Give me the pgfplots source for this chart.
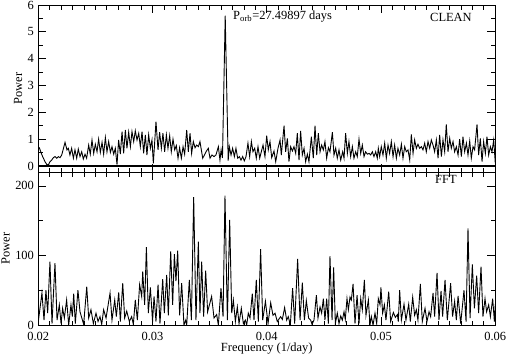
\documentclass[border=0pt]{standalone}
\usepackage{fontspec}
\setmainfont{Liberation Serif}
\usepackage{pgfplots}
\pgfplotsset{compat=1.18}

\pgfplotsset{
  every axis/.append style={
    scale only axis, width=457bp,
    xmin=0.02, xmax=0.06,
    tick align=inside,
    major tick length=8bp, minor tick length=4.5bp,
    xtick={0.02,0.03,0.04,0.05,0.06},
    minor x tick num=9,
    scaled x ticks=false,
    every tick/.style={black, line width=0.8bp},
    axis line style={line width=1bp},
    /pgf/number format/assume math mode=true,
    tick label style={font=\fontsize{12.5}{15}\selectfont},
    xticklabel style={yshift=-2.5bp},
    label style={font=\fontsize{12.5}{15}\selectfont},
    ylabel shift=-3bp,
    xlabel shift=-6bp,
  },
}

\begin{document}
\fontsize{12.5}{15}\selectfont
\begin{tikzpicture}
  % top panel: CLEAN periodogram
  \begin{axis}[name=top, height=167bp,
      ymin=-0.224, ymax=6, ytick={0,1,2,3,4,5,6}, minor y tick num=1,
      xticklabels={},
      extra y ticks={0}, extra y tick labels={},
      extra y tick style={grid=major, major grid style={black, line width=1.3bp}},
      ylabel={Power}]
    \addplot[black, line width=0.9bp] coordinates {
      (0.02000,0.66) (0.02009,0.68) (0.02024,0.50) (0.02038,0.35) (0.02059,0.16)
      (0.02076,0.04) (0.02091,0.06) (0.02102,0.16) (0.02117,0.22) (0.02132,0.31)
      (0.02146,0.35) (0.02161,0.29) (0.02175,0.35) (0.02190,0.31) (0.02205,0.41)
      (0.02234,0.88) (0.02251,0.60) (0.02263,0.66) (0.02277,0.41) (0.02292,0.66)
      (0.02307,0.29) (0.02321,0.60) (0.02336,0.29) (0.02350,0.63) (0.02365,0.35)
      (0.02380,0.53) (0.02394,0.26) (0.02409,0.44) (0.02423,0.29) (0.02441,0.78)
      (0.02455,0.44) (0.02470,0.97) (0.02485,0.47) (0.02499,0.81) (0.02514,0.53)
      (0.02528,1.00) (0.02543,0.51) (0.02558,0.88) (0.02572,0.44) (0.02587,1.06)
      (0.02601,0.53) (0.02616,0.91) (0.02631,0.51) (0.02645,0.72) (0.02660,0.44)
      (0.02674,0.66) (0.02689,0.05) (0.02703,0.97) (0.02718,0.44) (0.02733,1.28)
      (0.02747,0.47) (0.02762,1.34) (0.02776,0.66) (0.02791,1.26) (0.02806,0.72)
      (0.02820,1.28) (0.02835,0.91) (0.02849,1.31) (0.02864,0.97) (0.02879,1.22)
      (0.02893,0.72) (0.02908,1.28) (0.02922,0.47) (0.02937,1.16) (0.02951,0.41)
      (0.02966,1.16) (0.02981,0.66) (0.02995,0.97) (0.03007,0.10) (0.03030,1.65)
      (0.03048,0.60) (0.03062,1.26) (0.03077,0.66) (0.03091,1.22) (0.03106,0.53)
      (0.03121,1.16) (0.03135,0.66) (0.03150,1.13) (0.03164,0.53) (0.03179,1.00)
      (0.03194,0.60) (0.03208,0.76) (0.03223,0.29) (0.03237,0.68) (0.03252,0.29)
      (0.03267,0.72) (0.03281,0.44) (0.03299,1.34) (0.03313,0.53) (0.03328,1.22)
      (0.03342,0.47) (0.03357,0.91) (0.03372,0.68) (0.03386,0.78) (0.03401,0.72)
      (0.03415,0.91) (0.03439,0.29) (0.03453,0.40) (0.03468,0.53) (0.03488,0.66)
      (0.03503,0.29) (0.03520,0.41) (0.03538,0.35) (0.03555,0.41) (0.03576,0.72)
      (0.03590,0.22) (0.03600,0.60) (0.03612,0.30) (0.03636,5.60) (0.03662,0.20)
      (0.03672,0.72) (0.03687,0.41) (0.03701,0.66) (0.03716,0.35) (0.03730,0.66)
      (0.03745,0.29) (0.03760,0.35) (0.03774,0.22) (0.03789,0.35) (0.03803,0.19)
      (0.03818,0.35) (0.03835,0.85) (0.03850,0.35) (0.03865,0.91) (0.03879,0.53)
      (0.03894,0.66) (0.03908,0.29) (0.03923,0.72) (0.03938,0.29) (0.03952,0.53)
      (0.03967,0.78) (0.03984,0.35) (0.03999,1.13) (0.04013,0.60) (0.04028,0.91)
      (0.04043,0.31) (0.04063,0.56) (0.04078,0.16) (0.04098,0.66) (0.04116,0.97)
      (0.04127,0.41) (0.04151,1.50) (0.04165,0.53) (0.04180,1.03) (0.04194,0.16)
      (0.04209,0.72) (0.04224,0.56) (0.04238,0.72) (0.04253,0.47) (0.04267,1.22)
      (0.04282,0.22) (0.04296,1.31) (0.04311,0.41) (0.04326,0.66) (0.04340,0.16)
      (0.04355,0.44) (0.04369,0.16) (0.04390,1.09) (0.04407,0.29) (0.04422,1.50)
      (0.04437,0.41) (0.04451,1.22) (0.04466,0.53) (0.04480,0.78) (0.04495,0.60)
      (0.04509,0.91) (0.04524,0.29) (0.04539,0.68) (0.04553,0.53) (0.04574,1.26)
      (0.04588,0.41) (0.04603,0.66) (0.04617,0.29) (0.04632,0.60) (0.04647,0.22)
      (0.04664,0.53) (0.04676,0.29) (0.04690,1.22) (0.04705,0.47) (0.04719,0.91)
      (0.04734,0.35) (0.04749,0.72) (0.04763,0.29) (0.04778,0.53) (0.04792,0.35)
      (0.04807,1.00) (0.04822,0.47) (0.04836,0.78) (0.04851,0.35) (0.04865,0.53)
      (0.04880,0.44) (0.04895,0.47) (0.04909,0.41) (0.04924,0.53) (0.04938,0.35)
      (0.04953,0.53) (0.04967,0.29) (0.04976,0.66) (0.04988,0.35) (0.05002,0.72)
      (0.05017,0.41) (0.05032,0.85) (0.05046,0.29) (0.05061,0.78) (0.05075,0.47)
      (0.05090,0.91) (0.05105,0.35) (0.05119,0.78) (0.05134,0.29) (0.05148,0.66)
      (0.05163,0.41) (0.05178,0.81) (0.05192,0.29) (0.05207,0.72) (0.05221,0.53)
      (0.05236,0.60) (0.05251,0.22) (0.05265,1.18) (0.05280,0.47) (0.05294,0.97)
      (0.05309,0.66) (0.05323,0.81) (0.05338,0.66) (0.05353,0.72) (0.05367,0.60)
      (0.05382,0.85) (0.05396,0.53) (0.05411,0.91) (0.05426,0.66) (0.05440,0.97)
      (0.05455,0.78) (0.05469,0.53) (0.05484,0.97) (0.05499,0.29) (0.05513,1.16)
      (0.05528,0.35) (0.05542,0.97) (0.05557,0.53) (0.05571,1.55) (0.05586,0.53)
      (0.05601,1.03) (0.05615,0.66) (0.05630,0.91) (0.05644,0.53) (0.05659,0.72)
      (0.05674,0.41) (0.05688,1.00) (0.05703,0.35) (0.05717,1.09) (0.05732,0.53)
      (0.05747,0.85) (0.05761,0.41) (0.05776,0.93) (0.05790,0.29) (0.05805,0.72)
      (0.05819,0.60) (0.05840,1.55) (0.05854,0.41) (0.05869,1.03) (0.05884,0.16)
      (0.05898,0.91) (0.05913,0.47) (0.05927,1.09) (0.05942,0.41) (0.05957,0.72)
      (0.05971,0.53) (0.05986,0.97) (0.06000,0.10)
    };
    \node[anchor=west] at (rel axis cs:0.417,0.93) {P\textsubscript{orb}=27.49897 days};
    \node at (rel axis cs:0.903,0.925) {CLEAN};
  \end{axis}

  % bottom panel: FFT power spectrum
  \begin{axis}[name=bot, at={(top.south west)}, anchor=north west, height=153bp,
      ymin=0, ymax=220, ytick={0,100,200}, minor y tick num=1,
      xticklabels={0.02,0.03,0.04,0.05,0.06},
      xlabel={Frequency (1/day)}, ylabel={Power}]
    \addplot[black, line width=0.9bp] coordinates {
      (0.02000,5) (0.02032,46) (0.02050,7) (0.02067,50) (0.02082,17) (0.02102,91)
      (0.02120,2) (0.02146,89) (0.02164,7) (0.02184,29) (0.02199,2) (0.02213,24)
      (0.02228,10) (0.02248,36) (0.02266,0) (0.02286,29) (0.02298,12) (0.02310,45)
      (0.02324,2) (0.02347,50) (0.02365,19) (0.02397,1) (0.02424,55) (0.02441,10)
      (0.02461,22) (0.02482,2) (0.02505,17) (0.02523,5) (0.02540,12) (0.02555,1)
      (0.02572,22) (0.02593,10) (0.02628,46) (0.02645,7) (0.02669,36) (0.02683,12)
      (0.02704,47) (0.02718,5) (0.02739,60) (0.02756,10) (0.02774,20) (0.02797,5)
      (0.02817,12) (0.02832,1) (0.02849,36) (0.02867,7) (0.02887,58) (0.02905,41)
      (0.02914,77) (0.02931,29) (0.02946,112) (0.02963,17) (0.02981,54) (0.03000,5)
      (0.03013,41) (0.03030,5) (0.03048,58) (0.03065,2) (0.03089,66) (0.03103,17)
      (0.03124,72) (0.03138,14) (0.03159,106) (0.03176,29) (0.03191,102) (0.03205,63)
      (0.03220,107) (0.03237,14) (0.03255,60) (0.03275,0) (0.03290,7) (0.03299,0)
      (0.03322,65) (0.03340,7) (0.03360,184) (0.03380,7) (0.03401,120) (0.03415,17)
      (0.03430,91) (0.03447,12) (0.03465,78) (0.03482,19) (0.03517,41) (0.03538,10)
      (0.03561,15) (0.03576,0) (0.03599,53) (0.03617,12) (0.03634,186) (0.03655,7)
      (0.03675,151) (0.03693,17) (0.03707,36) (0.03725,5) (0.03742,26) (0.03757,2)
      (0.03777,24) (0.03795,2) (0.03812,7) (0.03824,0) (0.03838,17) (0.03853,10)
      (0.03873,45) (0.03888,7) (0.03908,65) (0.03926,5) (0.03946,109) (0.03964,7)
      (0.03988,34) (0.04011,2) (0.04034,32) (0.04054,14) (0.04072,17) (0.04092,5)
      (0.04121,12) (0.04136,8) (0.04156,25) (0.04174,7) (0.04188,12) (0.04206,0)
      (0.04226,53) (0.04244,2) (0.04270,95) (0.04291,7) (0.04311,61) (0.04329,7)
      (0.04346,35) (0.04366,10) (0.04384,7) (0.04396,1) (0.04413,7) (0.04434,43)
      (0.04448,10) (0.04466,26) (0.04480,17) (0.04495,38) (0.04509,7) (0.04524,38)
      (0.04539,2) (0.04553,99) (0.04571,7) (0.04585,83) (0.04600,2) (0.04617,17)
      (0.04632,2) (0.04647,13) (0.04661,7) (0.04676,19) (0.04687,8) (0.04702,38)
      (0.04714,22) (0.04728,40) (0.04740,36) (0.04755,59) (0.04772,2) (0.04790,43)
      (0.04807,2) (0.04822,38) (0.04836,22) (0.04854,65) (0.04868,14) (0.04889,36)
      (0.04903,0) (0.04915,12) (0.04930,0) (0.04947,17) (0.04962,2) (0.04976,38)
      (0.04991,29) (0.04999,54) (0.05014,17) (0.05029,29) (0.05043,7) (0.05067,48)
      (0.05084,5) (0.05108,18) (0.05125,11) (0.05143,15) (0.05151,5) (0.05163,50)
      (0.05178,7) (0.05201,30) (0.05218,7) (0.05242,30) (0.05256,5) (0.05277,40)
      (0.05294,14) (0.05309,22) (0.05323,7) (0.05344,59) (0.05361,5) (0.05385,24)
      (0.05402,5) (0.05420,19) (0.05434,12) (0.05455,46) (0.05469,12) (0.05490,75)
      (0.05507,7) (0.05525,49) (0.05539,12) (0.05560,65) (0.05580,7) (0.05609,60)
      (0.05626,12) (0.05644,34) (0.05659,7) (0.05674,42) (0.05697,2) (0.05726,50)
      (0.05744,5) (0.05761,139) (0.05779,10) (0.05799,87) (0.05817,24) (0.05837,71)
      (0.05854,17) (0.05875,84) (0.05892,12) (0.05910,38) (0.05924,19) (0.05942,29)
      (0.05957,12) (0.05977,38) (0.05992,5) (0.06000,30)
    };
    \node at (rel axis cs:0.892,0.951) {FFT};
  \end{axis}
  % page = the reference's frame around the two panels
  \pgfresetboundingbox
  \path[use as bounding box] ([xshift=-38.3bp,yshift=5bp]top.north west)
    rectangle ([xshift=11.7bp,yshift=-31bp]bot.south east);
\end{tikzpicture}
\end{document}
